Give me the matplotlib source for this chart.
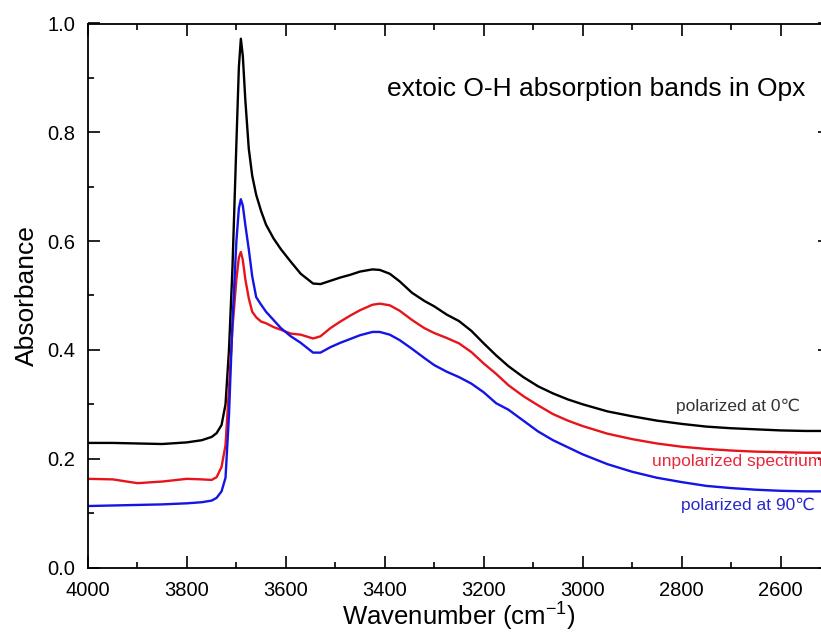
import matplotlib.pyplot as plt
from matplotlib.ticker import MultipleLocator

plt.rcParams['font.family'] = ['Liberation Sans', 'DejaVu Sans']
plt.rcParams['mathtext.default'] = 'regular'

# wavenumber grid (cm-1)
wavenumber = [4000, 3950, 3900, 3850, 3800, 3770, 3750, 3740, 3730, 3722, 3715, 3708,
              3700, 3695, 3691, 3687, 3682, 3675, 3668, 3660, 3650, 3640, 3625, 3610,
              3590, 3570, 3545, 3530, 3510, 3490, 3470, 3450, 3425, 3410, 3390, 3370,
              3345, 3320, 3300, 3275, 3250, 3225, 3200, 3175, 3150, 3120, 3090, 3060,
              3030, 3000, 2950, 2900, 2850, 2800, 2750, 2700, 2650, 2600, 2550, 2500]

pol_0 = [0.229, 0.229, 0.228, 0.227, 0.230, 0.234, 0.240, 0.247, 0.262, 0.300, 0.400, 0.550,
         0.780, 0.920, 0.972, 0.940, 0.860, 0.770, 0.720, 0.685, 0.655, 0.630, 0.605, 0.585,
         0.562, 0.540, 0.522, 0.521, 0.527, 0.533, 0.538, 0.544, 0.548, 0.547, 0.540, 0.526,
         0.505, 0.490, 0.480, 0.465, 0.453, 0.435, 0.412, 0.390, 0.370, 0.350, 0.333, 0.320,
         0.309, 0.300, 0.287, 0.278, 0.270, 0.264, 0.259, 0.256, 0.254, 0.252, 0.251, 0.251]

unpol = [0.163, 0.162, 0.155, 0.158, 0.163, 0.162, 0.161, 0.166, 0.185, 0.225, 0.330, 0.440,
         0.530, 0.570, 0.580, 0.565, 0.530, 0.495, 0.470, 0.460, 0.452, 0.449, 0.442, 0.437,
         0.430, 0.428, 0.421, 0.425, 0.440, 0.452, 0.463, 0.473, 0.483, 0.485, 0.482, 0.472,
         0.455, 0.440, 0.431, 0.422, 0.412, 0.396, 0.375, 0.356, 0.335, 0.315, 0.298, 0.282,
         0.270, 0.260, 0.246, 0.236, 0.228, 0.222, 0.218, 0.215, 0.213, 0.212, 0.211, 0.211]

pol_90 = [0.113, 0.114, 0.115, 0.116, 0.118, 0.120, 0.123, 0.128, 0.140, 0.165, 0.280, 0.450,
          0.600, 0.660, 0.677, 0.665, 0.630, 0.585, 0.535, 0.497, 0.483, 0.470, 0.455, 0.440,
          0.425, 0.413, 0.395, 0.395, 0.405, 0.413, 0.420, 0.427, 0.433, 0.433, 0.428, 0.418,
          0.402, 0.385, 0.372, 0.360, 0.350, 0.338, 0.322, 0.302, 0.290, 0.270, 0.250, 0.234,
          0.221, 0.208, 0.190, 0.176, 0.165, 0.157, 0.150, 0.146, 0.143, 0.141, 0.140, 0.140]

W, H = 821, 632
fig = plt.figure(figsize=(W / 100, H / 100), dpi=100)
# right spine lies beyond the figure edge, as in the original crop
ax = fig.add_axes([88 / W, 1 - 567.5 / H, 742 / W, 544 / H])

ax.plot(wavenumber, pol_0, color='black', lw=1.7)
ax.plot(wavenumber, unpol, color='#e8141c', lw=1.7)
ax.plot(wavenumber, pol_90, color='#1414e6', lw=1.7)

ax.set_xlim(4000, 2500)
ax.set_ylim(0.0, 1.0)
ax.xaxis.set_major_locator(MultipleLocator(200))
ax.xaxis.set_minor_locator(MultipleLocator(100))
ax.yaxis.set_major_locator(MultipleLocator(0.2))
ax.yaxis.set_minor_locator(MultipleLocator(0.1))
ax.yaxis.set_major_formatter(plt.FormatStrFormatter('%.1f'))
ax.tick_params(which='both', direction='in', top=True, right=True, width=1.2)
ax.tick_params(which='major', length=8.5, labelsize=14.5)
ax.tick_params(which='minor', length=4.5)
ax.tick_params(axis='x', which='major', pad=10)
ax.tick_params(axis='y', which='major', pad=9)
for s in ax.spines.values():
    s.set_linewidth(1.3)

ax.set_xlabel('Wavenumber (cm$^{-1}$)', fontsize=18.5, labelpad=0.5)
ax.set_ylabel('Absorbance', fontsize=19, labelpad=6)

ax.text(2550, 0.879, 'extoic O-H absorption bands in Opx', fontsize=19,
        ha='right', va='center')
ax.text(2560, 0.296, 'polarized at 0\u2103', fontsize=12.5, color='#333333',
        ha='right', va='center')
# the original cuts this label off at the right edge
ax.text(2859, 0.194, 'unpolarized spectrium', fontsize=12.5, color='#e8283c',
        ha='left', va='center')
ax.text(2530, 0.115, 'polarized at 90\u2103', fontsize=12.5, color='#2828c8',
        ha='right', va='center')

fig.savefig('out.png', dpi=100)
